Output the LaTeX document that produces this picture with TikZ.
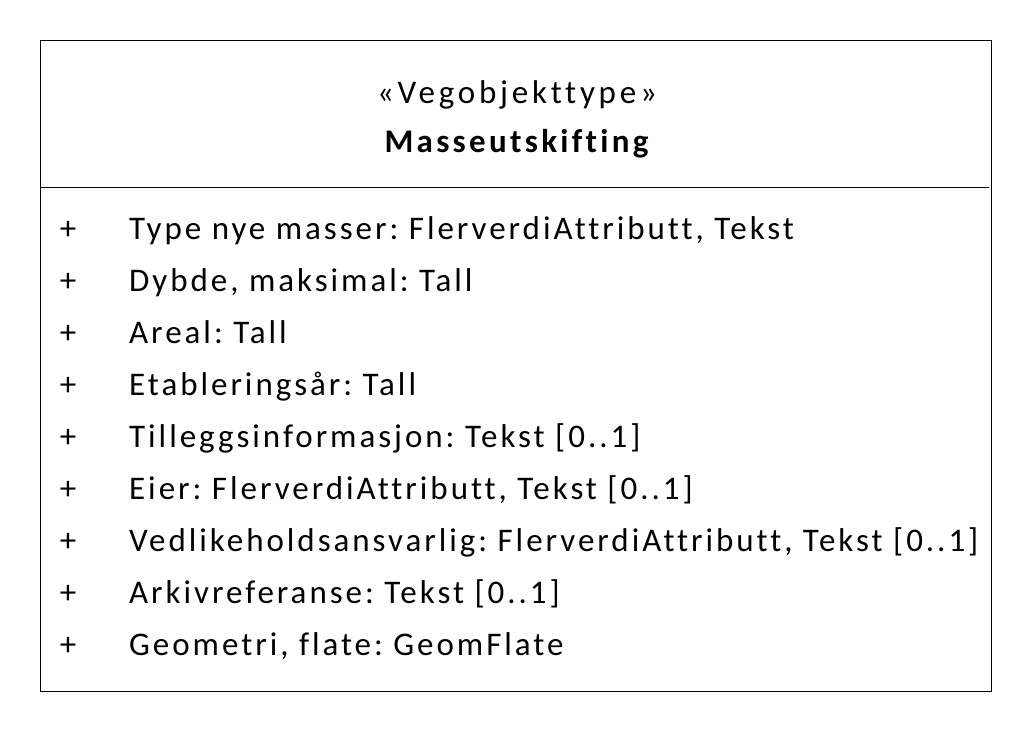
\documentclass[tikz,border=0pt]{standalone}
\usepackage{fontspec}
\setmainfont[Ligatures={NoCommon},LetterSpace=9]{Carlito}
\begin{document}
\frenchspacing
\begin{tikzpicture}[x=1pt,y=-1pt,
  attr/.style={anchor=base west,inner sep=0pt,font=\fontsize{33}{40}\selectfont},
  plus/.style={anchor=base,inner sep=0pt,font=\fontsize{33}{40}\selectfont},
  ttl/.style={anchor=base,inner sep=0pt,font=\fontsize{33}{40}\selectfont\addfontfeature{LetterSpace=11.5}}]
\useasboundingbox (0,0) rectangle (1032,732);
\node[draw,line width=1pt,minimum width=951pt,minimum height=651pt,anchor=north west,inner sep=0pt] (box) at (40,40) {};
\coordinate (dl) at (40,187);
\coordinate (dr) at (989,187);
\draw[line width=1pt] (dl) -- (dr);
\node[ttl] (st) at (517,103) {«Vegobjekttype»};
\node[ttl,font=\fontsize{33}{40}\selectfont\bfseries\addfontfeature{LetterSpace=10}] (nm) at (516.5,152.5) {Masseutskifting};
\foreach \i/\t in {0/{Type nye masser: FlerverdiAttributt, Tekst},
  1/{Dybde, maksimal: Tall},
  2/{Areal: Tall},
  3/{Etableringsår: Tall},
  4/{Tilleggsinformasjon: Tekst [0..1]},
  5/{Eier: FlerverdiAttributt, Tekst [0..1]},
  6/{Vedlikeholdsansvarlig: FlerverdiAttributt, Tekst [0..1]},
  7/{Arkivreferanse: Tekst [0..1]},
  8/{Geometri, flate: GeomFlate}}{
  \node[plus] (p\i) at (68,239.5+51.95*\i) {+};
  \node[attr] (a\i) at (129,239.5+51.95*\i) {\t};
}
\end{tikzpicture}
\end{document}
